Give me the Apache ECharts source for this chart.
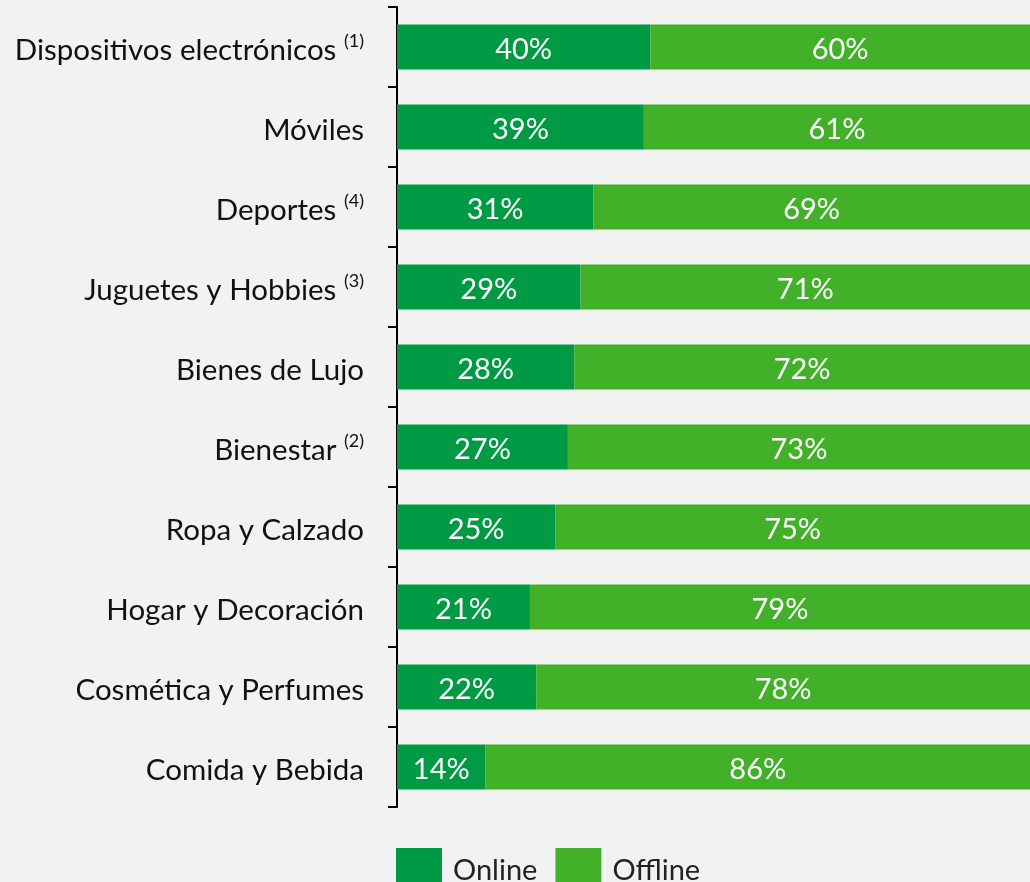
<!DOCTYPE html>
<html>
<head>
<meta charset="utf-8">
<script src="https://cdn.jsdelivr.net/npm/echarts@6/dist/echarts.min.js"></script>
<style>
  html, body { margin: 0; padding: 0; background: #f2f2f2; }
  #chart { width: 1030px; height: 882px; }
</style>
</head>
<body>
<div id="chart"></div>
<script>
// categorias (de arriba a abajo) y notas al pie
var categories = ['Dispositivos electrónicos', 'Móviles', 'Deportes', 'Juguetes y Hobbies', 'Bienes de Lujo',
  'Bienestar', 'Ropa y Calzado', 'Hogar y Decoración', 'Cosmética y Perfumes', 'Comida y Bebida']
var notes = ['(1)', '', '(4)', '(3)', '', '(2)', '', '', '', '']
var online = [40, 39, 31, 29, 28, 27, 25, 21, 22, 14]
var offline = [60, 61, 69, 71, 72, 73, 75, 79, 78, 86]
var seriesNames = ['Online', 'Offline']

var color = ['#009a44', '#43b02a']
var font = 'Lato, "Open Sans", sans-serif'

var myChart = echarts.init(document.getElementById('chart'))
var dataList = [online, offline]
var series = []
for (var i = 0; i < seriesNames.length; i++) {
  series.push({
    name: seriesNames[i],
    type: 'bar',
    stack: 'total',
    barWidth: 45,
    data: dataList[i],
    itemStyle: { color: color[i] },
    label: {
      show: true,
      position: 'inside',
      offset: [0, 3],
      color: '#ffffff',
      fontFamily: font,
      fontSize: 29,
      formatter: '{c}%'
    }
  })
}

myChart.setOption({
  backgroundColor: '#f2f2f2',
  animation: false,
  color: color,
  grid: { left: 397, right: 0, top: 7, height: 800 },
  legend: {
    left: 391,
    top: 843,
    itemWidth: 46,
    itemHeight: 46,
    itemGap: 18,
    icon: 'rect',
    textStyle: { fontFamily: font, fontSize: 29, color: '#222222', padding: [0, 0, 10, 6] },
    data: seriesNames
  },
  xAxis: {
    type: 'value',
    min: 0,
    max: 100,
    show: false
  },
  yAxis: {
    type: 'category',
    inverse: true,
    data: categories,
    axisLine: { lineStyle: { color: '#000000', width: 2 } },
    axisTick: { show: true, length: 9, lineStyle: { color: '#000000', width: 2 } },
    axisLabel: {
      margin: 33,
      formatter: function (val, idx) {
        return notes[idx] ? '{n|' + val + '} {sup|' + notes[idx] + '}' : '{n|' + val + '}'
      },
      fontFamily: font,
      fontSize: 29.5,
      color: '#111111',
      rich: {
        n: { fontFamily: font, fontSize: 29.5, color: '#111111', padding: [6, 0, 0, 0] },
        sup: { fontFamily: font, fontSize: 18, color: '#111111', padding: [0, 0, 12, 0] }
      }
    }
  },
  series: series
})
</script>
</body>
</html>
